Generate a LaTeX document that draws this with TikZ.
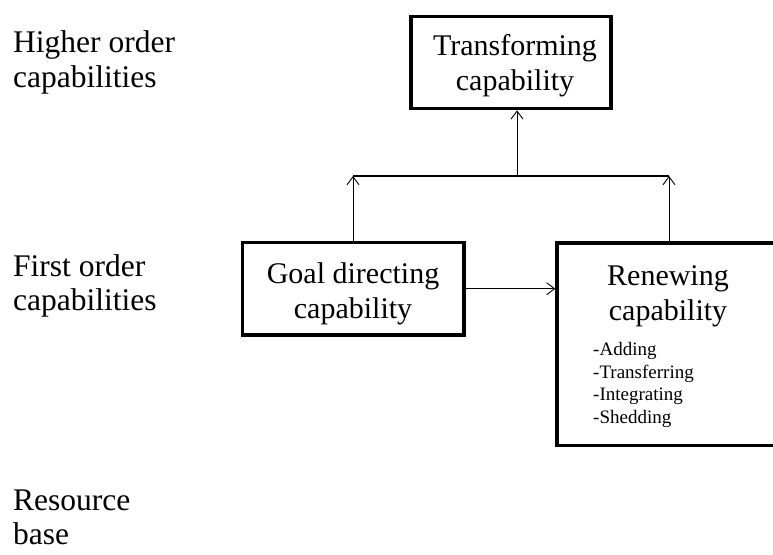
\documentclass[tikz,border=0pt]{standalone}
\usepackage{fontspec}
\setmainfont{Liberation Serif}
\usetikzlibrary{arrows.meta}
\begin{document}
\begin{tikzpicture}[x=1pt,y=1pt,
  box/.style={draw, line width=3.3pt, rectangle, inner sep=0pt},
  boxtxt/.style={inner sep=0pt, align=center, anchor=north, font=\fontsize{30}{35}\selectfont},
  lbl/.style={inner sep=0pt, align=left, anchor=west, font=\fontsize{31.5}{34.3}\selectfont},
  conn/.style={line width=0.9pt},
  arr/.style={conn, -{Straight Barb[length=8pt,width=12pt,line width=0.9pt]}}]
\clip (0,0) rectangle (773,-554);
\fill[white] (0,0) rectangle (773,-554);
% level labels
\node[lbl] (higher) at (13,-62.5) {Higher order\\capabilities};
\node[lbl] (first) at (13,-286) {First order\\capabilities};
\node[lbl] (resource) at (13,-517.5) {Resource\\base};
% boxes
\node[box, minimum width=200pt, minimum height=92.5pt] (trans) at (511,-62.5) {};
\node[box, minimum width=221.5pt, minimum height=92.5pt] (goal) at (353.25,-288.75) {};
\node[box, minimum width=223pt, minimum height=202.5pt] (renew) at (668.5,-344.25) {};
% box texts
\node[boxtxt] (transtxt) at (515,-34) {Transforming\\capability};
\node[boxtxt] (goaltxt) at (353,-262.5) {Goal directing\\capability};
\node[boxtxt] (renewtxt) at (668,-265.5) {Renewing\\capability};
\node[inner sep=0pt, align=left, anchor=north west, font=\fontsize{19}{22.7}\selectfont] (renewlist) at (593,-342) {-Adding\\-Transferring\\-Integrating\\-Shedding};
% connectors
\coordinate (jl) at (353,-176);
\coordinate (jr) at (669,-176);
\coordinate (jm) at (517,-176);
\draw[arr] (jl |- goal.north) -- (jl);
\draw[arr] (jr |- renew.north) -- (jr);
\draw[line width=1.8pt] (jl) -- (jr);
\draw[arr] (jm) -- (jm |- trans.south);
\draw[arr] (goal.east) -- (renew.west |- goal.east);
\end{tikzpicture}
\end{document}
